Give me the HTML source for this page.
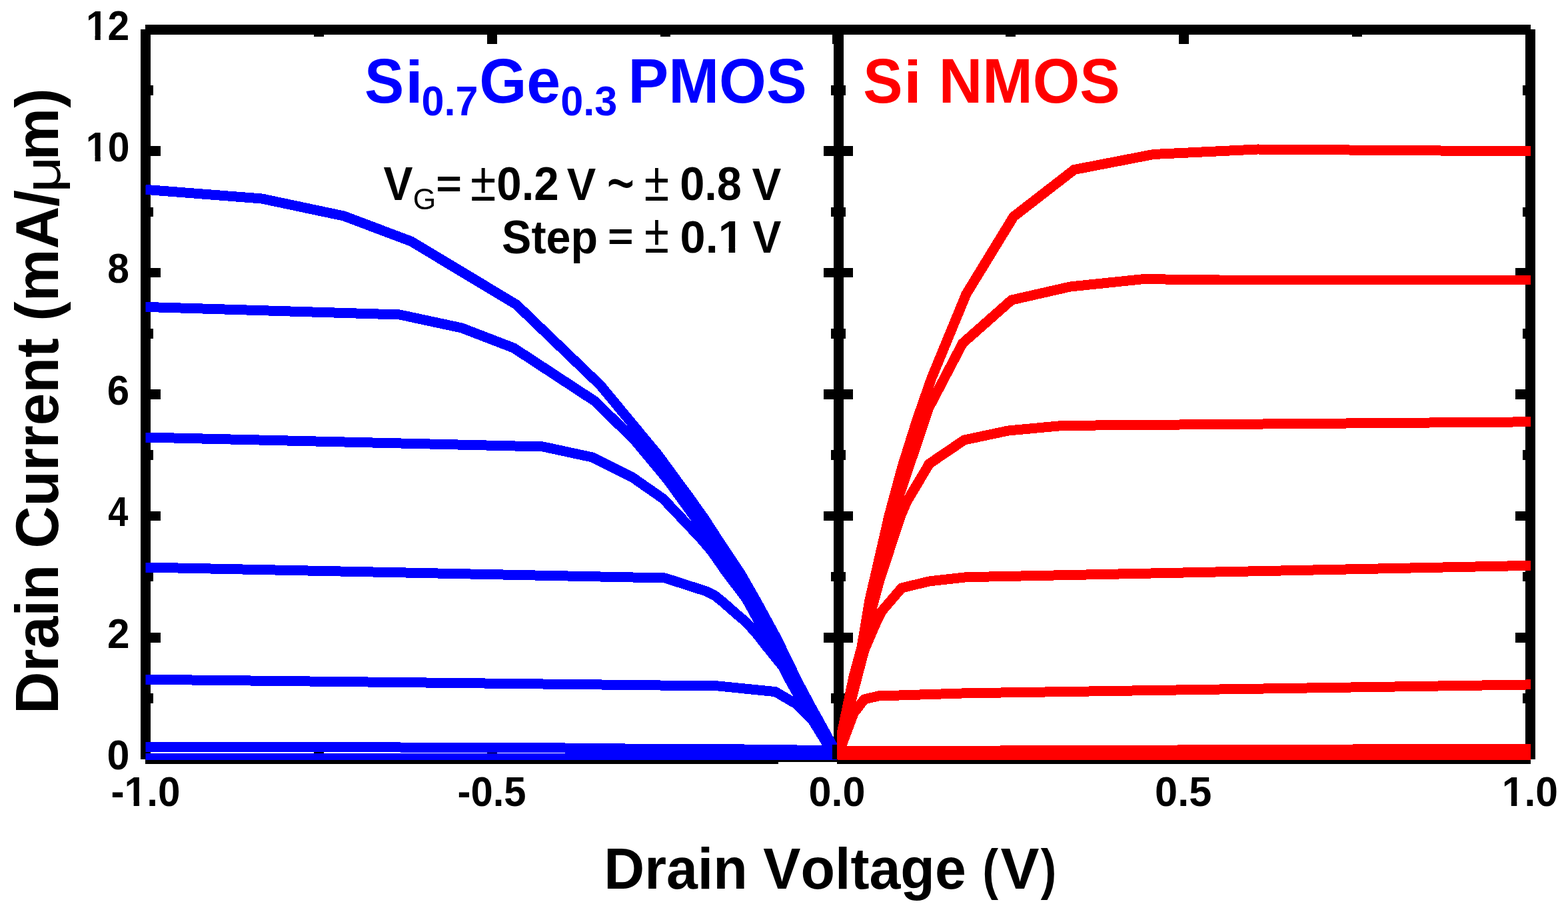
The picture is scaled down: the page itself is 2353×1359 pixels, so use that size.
<!DOCTYPE html>
<html><head><meta charset="utf-8"><title>Drain current vs drain voltage</title>
<style>html,body{margin:0;padding:0;background:#fff;overflow:hidden}svg{display:block}
text{font-family:"Liberation Sans", Arial, sans-serif;font-kerning:none}</style></head>
<body><svg width="2353" height="1359" viewBox="0 0 2353 1359" shape-rendering="crispEdges">
<rect x="0" y="0" width="2353" height="1359" fill="#fff"/>
<defs><clipPath id="cl"><rect x="218.5" y="44.5" width="1037.5" height="1095.5"/></clipPath><clipPath id="cr"><rect x="1256" y="44.5" width="1041" height="1095.5"/></clipPath></defs>
<rect x="211.00" y="44.00" width="15.00" height="1095.00" fill="#000"/>
<rect x="218.00" y="37.00" width="1041.00" height="15.00" fill="#000"/>
<rect x="218.00" y="1131.00" width="950.00" height="15.00" fill="#000"/>
<rect x="1168.00" y="1128.00" width="91.00" height="15.00" fill="#000"/>
<rect x="1251.00" y="44.00" width="15.00" height="1095.00" fill="#000"/>
<rect x="218.00" y="1131.30" width="22.80" height="14.60" fill="#000"/>
<rect x="218.00" y="1040.11" width="11.90" height="14.60" fill="#000"/>
<rect x="1247.00" y="1040.11" width="12.00" height="14.60" fill="#000"/>
<rect x="218.00" y="948.92" width="22.80" height="14.60" fill="#000"/>
<rect x="1236.00" y="948.92" width="23.00" height="14.60" fill="#000"/>
<rect x="218.00" y="857.73" width="11.90" height="14.60" fill="#000"/>
<rect x="1247.00" y="857.73" width="12.00" height="14.60" fill="#000"/>
<rect x="218.00" y="766.54" width="22.80" height="14.60" fill="#000"/>
<rect x="1236.00" y="766.54" width="23.00" height="14.60" fill="#000"/>
<rect x="218.00" y="675.35" width="11.90" height="14.60" fill="#000"/>
<rect x="1247.00" y="675.35" width="12.00" height="14.60" fill="#000"/>
<rect x="218.00" y="584.16" width="22.80" height="14.60" fill="#000"/>
<rect x="1236.00" y="584.16" width="23.00" height="14.60" fill="#000"/>
<rect x="218.00" y="492.97" width="11.90" height="14.60" fill="#000"/>
<rect x="1247.00" y="492.97" width="12.00" height="14.60" fill="#000"/>
<rect x="218.00" y="401.78" width="22.80" height="14.60" fill="#000"/>
<rect x="1236.00" y="401.78" width="23.00" height="14.60" fill="#000"/>
<rect x="218.00" y="310.59" width="11.90" height="14.60" fill="#000"/>
<rect x="1247.00" y="310.59" width="12.00" height="14.60" fill="#000"/>
<rect x="218.00" y="219.40" width="22.80" height="14.60" fill="#000"/>
<rect x="1236.00" y="219.40" width="23.00" height="14.60" fill="#000"/>
<rect x="218.00" y="128.21" width="11.90" height="14.60" fill="#000"/>
<rect x="1247.00" y="128.21" width="12.00" height="14.60" fill="#000"/>
<rect x="218.00" y="37.02" width="22.80" height="14.60" fill="#000"/>
<rect x="1236.00" y="37.02" width="23.00" height="14.60" fill="#000"/>
<rect x="471.00" y="44.00" width="15.00" height="10.90" fill="#000"/>
<rect x="471.00" y="1127.60" width="15.00" height="11.40" fill="#000"/>
<rect x="731.00" y="44.00" width="15.00" height="21.80" fill="#000"/>
<rect x="731.00" y="1116.60" width="15.00" height="22.40" fill="#000"/>
<rect x="991.00" y="44.00" width="15.00" height="10.90" fill="#000"/>
<rect x="991.00" y="1127.60" width="15.00" height="11.40" fill="#000"/>
<polyline points="218.0,284.3 393.0,298.0 516.0,324.0 617.0,362.0 775.0,457.0 901.0,578.0 988.0,683.0 1015.0,720.0 1030.0,740.0 1057.0,778.0 1076.4,808.0 1111.7,861.0 1134.0,900.0 1165.6,958.0 1197.4,1023.6 1225.7,1076.5 1247.0,1115.4 1258.5,1138.6" fill="none" stroke="#0000ff" stroke-width="15" stroke-linejoin="miter" stroke-miterlimit="3" clip-path="url(#cl)"/>
<polyline points="218.0,460.4 600.0,472.0 693.0,492.0 771.0,522.0 893.0,602.0 953.0,661.0 1002.0,720.0 1044.0,778.0 1063.0,808.0 1098.0,861.0 1121.0,900.0 1153.0,958.0 1187.0,1023.6 1217.0,1076.5 1241.0,1115.4 1258.5,1138.6" fill="none" stroke="#0000ff" stroke-width="15" stroke-linejoin="miter" stroke-miterlimit="3" clip-path="url(#cl)"/>
<polyline points="218.0,656.0 815.0,670.0 889.0,686.0 949.0,716.0 995.0,748.0 1050.0,806.0 1068.0,827.0 1091.0,860.0 1114.0,890.0 1133.0,916.5 1148.0,939.5 1172.0,982.0 1200.0,1030.0 1228.0,1080.0 1250.0,1120.0 1258.5,1138.6" fill="none" stroke="#0000ff" stroke-width="15" stroke-linejoin="miter" stroke-miterlimit="3" clip-path="url(#cl)"/>
<polyline points="218.0,851.0 998.0,867.0 1060.0,887.0 1073.0,893.6 1086.5,904.5 1104.0,920.0 1120.0,933.5 1136.0,951.5 1150.0,969.4 1173.0,997.8 1197.8,1029.6 1225.0,1075.0 1258.5,1138.6" fill="none" stroke="#0000ff" stroke-width="15" stroke-linejoin="miter" stroke-miterlimit="3" clip-path="url(#cl)"/>
<polyline points="218.0,1019.2 1078.0,1029.0 1163.5,1037.6 1195.0,1056.0 1218.0,1079.0 1243.0,1112.0 1258.5,1138.6" fill="none" stroke="#0000ff" stroke-width="15" stroke-linejoin="miter" stroke-miterlimit="3" clip-path="url(#cl)"/>
<polyline points="218.0,1120.5 820.0,1121.3 880.0,1122.8 1078.0,1123.5 1235.0,1125.5 1258.5,1138.6" fill="none" stroke="#0000ff" stroke-width="15" stroke-linejoin="miter" stroke-miterlimit="3" clip-path="url(#cl)"/>
<polyline points="218.0,1137.5 1200.0,1137.5 1258.5,1138.6" fill="none" stroke="#0000ff" stroke-width="15" stroke-linejoin="miter" stroke-miterlimit="3" clip-path="url(#cl)"/>
<rect x="1259.00" y="37.00" width="1038.00" height="15.00" fill="#000"/>
<rect x="1256.00" y="1131.00" width="1041.00" height="15.00" fill="#000"/>
<rect x="2289.00" y="44.00" width="15.00" height="1095.00" fill="#000"/>
<rect x="1256.00" y="1131.30" width="24.00" height="14.60" fill="#000"/>
<rect x="2274.00" y="1131.30" width="23.00" height="14.60" fill="#000"/>
<rect x="1256.00" y="1040.11" width="13.00" height="14.60" fill="#000"/>
<rect x="2285.00" y="1040.11" width="12.00" height="14.60" fill="#000"/>
<rect x="1256.00" y="948.92" width="24.00" height="14.60" fill="#000"/>
<rect x="2274.00" y="948.92" width="23.00" height="14.60" fill="#000"/>
<rect x="1256.00" y="857.73" width="13.00" height="14.60" fill="#000"/>
<rect x="2285.00" y="857.73" width="12.00" height="14.60" fill="#000"/>
<rect x="1256.00" y="766.54" width="24.00" height="14.60" fill="#000"/>
<rect x="2274.00" y="766.54" width="23.00" height="14.60" fill="#000"/>
<rect x="1256.00" y="675.35" width="13.00" height="14.60" fill="#000"/>
<rect x="2285.00" y="675.35" width="12.00" height="14.60" fill="#000"/>
<rect x="1256.00" y="584.16" width="24.00" height="14.60" fill="#000"/>
<rect x="2274.00" y="584.16" width="23.00" height="14.60" fill="#000"/>
<rect x="1256.00" y="492.97" width="13.00" height="14.60" fill="#000"/>
<rect x="2285.00" y="492.97" width="12.00" height="14.60" fill="#000"/>
<rect x="1256.00" y="401.78" width="24.00" height="14.60" fill="#000"/>
<rect x="2274.00" y="401.78" width="23.00" height="14.60" fill="#000"/>
<rect x="1256.00" y="310.59" width="13.00" height="14.60" fill="#000"/>
<rect x="2285.00" y="310.59" width="12.00" height="14.60" fill="#000"/>
<rect x="1256.00" y="219.40" width="24.00" height="14.60" fill="#000"/>
<rect x="2274.00" y="219.40" width="23.00" height="14.60" fill="#000"/>
<rect x="1256.00" y="128.21" width="13.00" height="14.60" fill="#000"/>
<rect x="2285.00" y="128.21" width="12.00" height="14.60" fill="#000"/>
<rect x="1256.00" y="37.02" width="24.00" height="14.60" fill="#000"/>
<rect x="2274.00" y="37.02" width="23.00" height="14.60" fill="#000"/>
<rect x="1249.00" y="44.00" width="15.00" height="21.80" fill="#000"/>
<rect x="1249.00" y="1116.60" width="15.00" height="22.40" fill="#000"/>
<rect x="1509.00" y="44.00" width="15.00" height="10.90" fill="#000"/>
<rect x="1509.00" y="1127.60" width="15.00" height="11.40" fill="#000"/>
<rect x="1769.00" y="44.00" width="15.00" height="21.80" fill="#000"/>
<rect x="1769.00" y="1116.60" width="15.00" height="22.40" fill="#000"/>
<rect x="2029.00" y="44.00" width="15.00" height="10.90" fill="#000"/>
<rect x="2029.00" y="1127.60" width="15.00" height="11.40" fill="#000"/>
<polyline points="1256.5,1138.6 1264.0,1096.0 1281.0,1015.0 1293.0,971.0 1305.0,900.0 1314.5,859.0 1334.0,774.0 1354.0,700.0 1376.0,630.0 1398.0,567.0 1450.0,441.0 1521.0,325.0 1612.0,254.5 1731.0,231.5 1887.0,224.0 2297.0,227.0" fill="none" stroke="#ff0000" stroke-width="15" stroke-linejoin="miter" stroke-miterlimit="3" clip-path="url(#cr)"/>
<polyline points="1256.5,1138.6 1268.0,1090.0 1282.0,1030.0 1296.0,975.0 1306.0,914.0 1317.0,870.0 1332.0,810.0 1345.0,756.0 1382.7,645.0 1393.7,612.0 1444.5,515.0 1518.0,450.0 1606.0,430.0 1716.0,418.6 1830.0,420.0 2297.0,420.0" fill="none" stroke="#ff0000" stroke-width="15" stroke-linejoin="miter" stroke-miterlimit="3" clip-path="url(#cr)"/>
<polyline points="1256.5,1138.6 1268.0,1090.0 1282.0,1030.0 1294.0,975.0 1308.0,914.0 1320.0,870.0 1351.5,774.0 1361.0,752.0 1392.0,700.0 1394.0,696.0 1447.0,660.0 1513.0,646.0 1595.0,638.4 2297.0,632.8" fill="none" stroke="#ff0000" stroke-width="15" stroke-linejoin="miter" stroke-miterlimit="3" clip-path="url(#cr)"/>
<polyline points="1256.5,1138.6 1268.0,1090.0 1280.0,1040.0 1297.0,975.0 1312.0,940.0 1323.0,917.0 1353.0,882.0 1394.0,872.0 1450.0,865.7 2297.0,848.3" fill="none" stroke="#ff0000" stroke-width="15" stroke-linejoin="miter" stroke-miterlimit="3" clip-path="url(#cr)"/>
<polyline points="1256.5,1138.6 1263.0,1118.0 1281.0,1070.0 1297.0,1049.0 1318.0,1044.0 1450.0,1039.8 2297.0,1026.9" fill="none" stroke="#ff0000" stroke-width="15" stroke-linejoin="miter" stroke-miterlimit="3" clip-path="url(#cr)"/>
<polyline points="1256.5,1138.6 1270.0,1127.0 1450.0,1126.2 2297.0,1123.0" fill="none" stroke="#ff0000" stroke-width="15" stroke-linejoin="miter" stroke-miterlimit="3" clip-path="url(#cr)"/>
<polyline points="1256.5,1138.6 1270.0,1134.0 2297.0,1133.0" fill="none" stroke="#ff0000" stroke-width="15" stroke-linejoin="miter" stroke-miterlimit="3" clip-path="url(#cr)"/>
<text transform="translate(160.59,1154.00) scale(1,1.0440)" font-size="60.98" font-weight="bold" fill="#000">0</text>
<text transform="translate(160.91,971.62) scale(1,1.0569)" font-size="60.24" font-weight="bold" fill="#000">2</text>
<text transform="translate(162.18,789.24) scale(1,1.1759)" font-size="54.14" font-weight="bold" fill="#000">4</text>
<text transform="translate(160.80,606.86) scale(1,1.0612)" font-size="59.99" font-weight="bold" fill="#000">6</text>
<text transform="translate(161.14,424.48) scale(1,1.0837)" font-size="58.75" font-weight="bold" fill="#000">8</text>
<clipPath id="one1"><path clip-rule="evenodd" d="M-5000 -5000H5000V5000H-5000ZM2.88 -7.21H13.70V3.00H2.88ZM21.90 -7.21H31.94V3.00H21.90Z"/></clipPath>
<text transform="translate(128.87,242.10) scale(1,1.0804)" font-size="58.93" font-weight="bold" fill="#000" clip-path="url(#one1)">10</text>
<clipPath id="one2"><path clip-rule="evenodd" d="M-5000 -5000H5000V5000H-5000ZM2.87 -7.21H13.68V3.00H2.87ZM21.88 -7.21H31.91V3.00H21.88Z"/></clipPath>
<text transform="translate(128.88,59.72) scale(1,1.0814)" font-size="58.87" font-weight="bold" fill="#000" clip-path="url(#one2)">12</text>
<clipPath id="one3"><path clip-rule="evenodd" d="M-5000 -5000H5000V5000H-5000ZM23.03 -7.36H34.10V3.00H23.03ZM42.50 -7.36H52.77V3.00H42.50Z"/></clipPath>
<text transform="translate(166.54,1208.60) scale(1,1.0507)" font-size="60.31" font-weight="bold" fill="#000" clip-path="url(#one3)">-1.0</text>
<text transform="translate(686.57,1208.60) scale(1,1.0602)" font-size="59.77" font-weight="bold" fill="#000">-0.5</text>
<text transform="translate(1213.48,1208.60) scale(1,1.0361)" font-size="61.17" font-weight="bold" fill="#000">0.0</text>
<text transform="translate(1733.08,1208.60) scale(1,1.0336)" font-size="61.31" font-weight="bold" fill="#000">0.5</text>
<clipPath id="one4"><path clip-rule="evenodd" d="M-5000 -5000H5000V5000H-5000ZM2.96 -7.39H14.10V3.00H2.96ZM22.54 -7.39H32.88V3.00H22.54Z"/></clipPath>
<text transform="translate(2253.75,1208.60) scale(1,1.0446)" font-size="60.67" font-weight="bold" fill="#000" clip-path="url(#one4)">1.0</text>
<text transform="translate(906.26,1333.00) scale(1,1.0340)" font-size="84.34" font-weight="bold" fill="#000">Drain Voltage</text>
<text transform="translate(1474.34,1332.68) scale(1,1.1526)" font-size="71.57" font-weight="bold" fill="#000">(</text>
<text transform="translate(1501.51,1332.90) scale(1,1.0031)" font-size="86.94" font-weight="bold" fill="#000">V</text>
<text transform="translate(1561.83,1332.68) scale(1,1.1642)" font-size="70.87" font-weight="bold" fill="#000">)</text>
<text transform="translate(87.00,1070.76) rotate(-90) scale(1,1.0451)" font-size="87.67" font-weight="bold" fill="#000">Drain</text>
<text transform="translate(87.00,822.58) rotate(-90) scale(1,1.0490)" font-size="87.35" font-weight="bold" fill="#000">Current</text>
<text transform="translate(87.00,481.71) rotate(-90) scale(1,1.0358)" font-size="88.46" font-weight="bold" fill="#000">(mA/</text>
<text transform="translate(90.45,289.27) rotate(-90) scale(1,0.7957)" font-size="95.97" font-weight="normal" fill="#000">μ</text>
<text transform="translate(87.00,240.43) rotate(-90) scale(1,1.0366)" font-size="88.39" font-weight="bold" fill="#000">m)</text>
<text transform="translate(547.04,153.88) scale(1,1.0641)" font-size="88.80" font-weight="bold" fill="#0000ff">S</text>
<text transform="translate(608.13,153.90) scale(1,0.9371)" font-size="95.48" font-weight="bold" fill="#0000ff">i</text>
<text transform="translate(632.48,172.80) scale(1,1.0150)" font-size="61.15" font-weight="bold" fill="#0000ff">0.7</text>
<text transform="translate(719.25,154.00) scale(1,1.0332)" font-size="91.44" font-weight="bold" fill="#0000ff">Ge</text>
<text transform="translate(841.18,172.80) scale(1,1.0134)" font-size="61.24" font-weight="bold" fill="#0000ff">0.3</text>
<text transform="translate(942.51,154.00) scale(1,1.0376)" font-size="91.06" font-weight="bold" fill="#0000ff">PMOS</text>
<text transform="translate(1295.24,153.88) scale(1,1.0625)" font-size="88.80" font-weight="bold" fill="#ff0000">S</text>
<text transform="translate(1356.23,153.80) scale(1,0.9395)" font-size="95.48" font-weight="bold" fill="#ff0000">i</text>
<text transform="translate(1408.84,153.80) scale(1,1.0424)" font-size="90.63" font-weight="bold" fill="#ff0000">NMOS</text>
<text transform="translate(575.45,300.00) scale(1,1.0553)" font-size="65.97" font-weight="bold" fill="#000">V</text>
<text transform="translate(619.77,314.36) scale(1,1.0175)" font-size="44.42" font-weight="normal" fill="#000">G</text>
<text transform="translate(654.25,295.00) scale(1,0.8713)" font-size="66.21" font-weight="bold" fill="#000">=</text>
<text transform="translate(705.89,300.90) scale(1,1.1750)" font-size="69.78" font-weight="normal" fill="#000">±</text>
<text transform="translate(745.24,300.00) scale(1,1.0345)" font-size="67.30" font-weight="bold" fill="#000">0.2</text>
<text transform="translate(850.85,299.70) scale(1,1.0633)" font-size="65.21" font-weight="bold" fill="#000">V</text>
<text transform="translate(910.48,312.49) scale(1,1.5194)" font-size="71.64" font-weight="normal" fill="#000">~</text>
<text transform="translate(966.84,301.00) scale(1,1.2083)" font-size="68.13" font-weight="normal" fill="#000">±</text>
<text transform="translate(1020.16,300.00) scale(1,1.0452)" font-size="66.75" font-weight="bold" fill="#000">0.8</text>
<text transform="translate(1128.55,299.70) scale(1,1.0558)" font-size="65.66" font-weight="bold" fill="#000">V</text>
<text transform="translate(753.09,379.50) scale(1,1.0613)" font-size="66.42" font-weight="bold" fill="#000">Step</text>
<text transform="translate(912.06,374.03) scale(1,0.8779)" font-size="66.01" font-weight="bold" fill="#000">=</text>
<text transform="translate(966.96,378.90) scale(1,1.2131)" font-size="67.31" font-weight="normal" fill="#000">±</text>
<clipPath id="one5"><path clip-rule="evenodd" d="M-5000 -5000H5000V5000H-5000ZM60.47 -8.19H73.04V3.00H60.47ZM82.58 -8.19H94.25V3.00H82.58Z"/></clipPath>
<text transform="translate(1020.59,378.90) scale(1,1.0122)" font-size="68.50" font-weight="bold" fill="#000" clip-path="url(#one5)">0.1</text>
<text transform="translate(1129.46,378.90) scale(1,1.0785)" font-size="64.29" font-weight="bold" fill="#000">V</text>
</svg></body></html>
